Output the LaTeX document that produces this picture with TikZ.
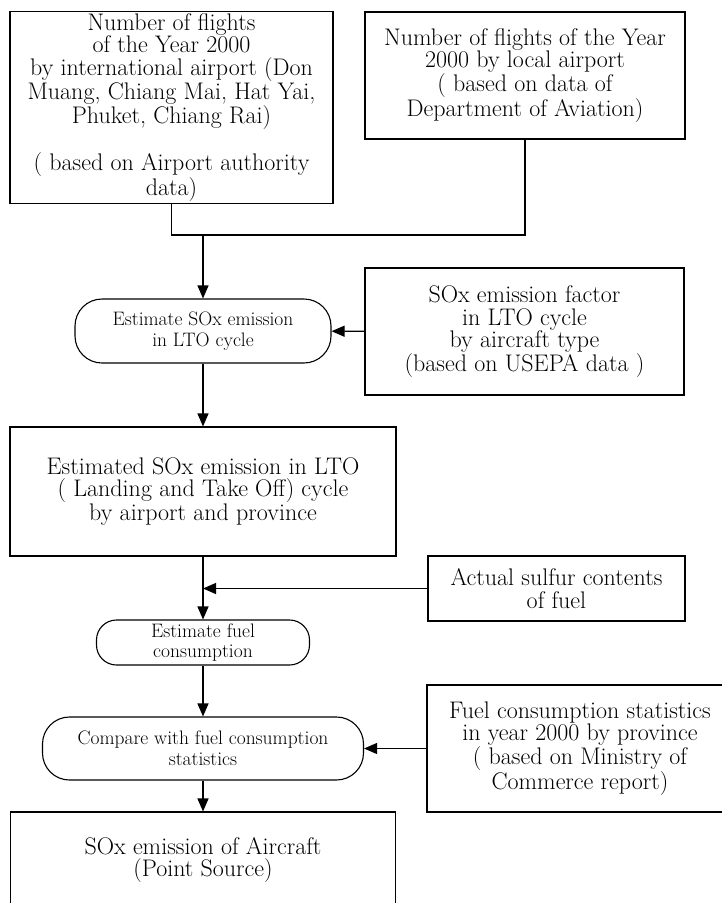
\documentclass[tikz,border=0pt]{standalone}
\usepackage{tikz}
\usetikzlibrary{arrows.meta}

\begin{document}
\begin{tikzpicture}[x=1pt,y=-1pt,line width=1.1pt,
  databox/.style={draw,align=center,inner sep=2pt,font=\fontsize{24}{22.6}\selectfont},
  procbox/.style={draw,align=center,inner sep=2pt,rounded corners=27pt,font=\fontsize{19.5}{21}\selectfont},
  flow/.style={-{Triangle[width=11pt,length=13pt]}}]
\useasboundingbox (0,0) rectangle (721,903);
% flight data
\node[databox,minimum width=323pt,minimum height=191pt] (intl) at (171.5,107.5)
  {Number of flights\\ of the Year 2000\\ by international airport (Don\\ Muang, Chiang Mai, Hat Yai,\\ Phuket, Chiang Rai)\\[22.6pt] ( based on Airport authority\\ data)};
\node[databox,minimum width=320pt,minimum height=127pt] (local) at (525,75.5)
  {Number of flights of the Year\\ 2000 by local airport\\ ( based on data of\\ Department of Aviation)};
% LTO cycle
\node[procbox,minimum width=256pt,minimum height=64pt] (estlto) at (203,331) {Estimate SOx emission\\ in LTO cycle};
\node[databox,minimum width=319pt,minimum height=127pt] (factor) at (524.5,331.5)
  {SOx emission factor\\ in LTO cycle\\ by aircraft type\\ (based on USEPA data )};
\node[databox,minimum width=386pt,minimum height=129pt] (ltoem) at (203,491.5)
  {Estimated SOx emission in LTO\\ ( Landing and Take Off) cycle\\ by airport and province};
% fuel
\node[databox,minimum width=257pt,minimum height=65pt] (sulfur) at (556.5,588.5) {Actual sulfur contents\\ of fuel};
\node[procbox,rounded corners=20pt,font=\fontsize{19.5}{20}\selectfont,minimum width=213pt,minimum height=45pt] (estfuel) at (203,642.5) {Estimate fuel\\ consumption};
\node[procbox,minimum width=321pt,minimum height=63pt] (compare) at (203,748.5) {Compare with fuel consumption\\ statistics};
\node[databox,minimum width=306pt,minimum height=127pt] (stats) at (580,748.5)
  {Fuel consumption statistics\\ in year 2000 by province\\ ( based on Ministry of\\ Commerce report)};
\node[databox,minimum width=385pt,minimum height=96pt] (aircraft) at (203,860) {SOx emission of Aircraft\\ (Point Source)};
% connectors
\coordinate (join) at (203,235);
\draw (intl.south) |- (join) -| (local.south);
\draw[flow] (join) -- (estlto);
\draw[flow] (factor) -- (estlto);
\draw[flow] (estlto) -- (ltoem);
\coordinate (merge) at (ltoem.south |- sulfur.west);
\draw[flow] (sulfur) -- (merge);
\draw[flow] (ltoem) -- (estfuel);
\draw[flow] (estfuel) -- (compare);
\draw[flow] (stats) -- (compare);
\draw[flow] (compare) -- (aircraft);
\end{tikzpicture}
\end{document}
